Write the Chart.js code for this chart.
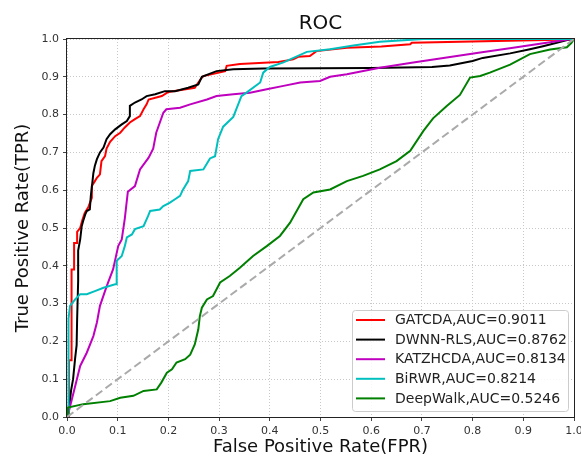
<!DOCTYPE html>
<html>
<head>
<meta charset="utf-8">
<script src="https://cdn.jsdelivr.net/npm/chart.js@4.4.1/dist/chart.umd.min.js"></script>
<style>
  html, body { margin: 0; padding: 0; background: #fff; }
  #roc { display: block; }
</style>
</head>
<body>
<canvas id="roc" width="581" height="458"></canvas>
<script>
// data
const names = ['GATCDA,AUC=0.9011', 'DWNN-RLS,AUC=0.8762', 'KATZHCDA,AUC=0.8134', 'BiRWR,AUC=0.8214', 'DeepWalk,AUC=0.5246'];
const colors = ['#ff0000', '#000000', '#bf00bf', '#00bfbf', '#008000'];
const xTicks = [0, 0.1, 0.2, 0.3, 0.4, 0.5, 0.6, 0.7, 0.8, 0.9, 1.0];

const gatcdaFpr = [0, 0.004, 0.004, 0.009, 0.009, 0.014, 0.014, 0.02, 0.02, 0.026, 0.03, 0.035, 0.042, 0.049, 0.049, 0.055, 0.059, 0.065, 0.068, 0.075, 0.078, 0.085, 0.095, 0.105, 0.114, 0.124, 0.134, 0.144, 0.151, 0.157, 0.161, 0.187, 0.2, 0.252, 0.259, 0.266, 0.269, 0.312, 0.315, 0.341, 0.417, 0.446, 0.456, 0.479, 0.492, 0.552, 0.62, 0.677, 0.68, 0.992, 1];
const gatcdaTpr = [0, 0, 0.15, 0.15, 0.39, 0.39, 0.46, 0.46, 0.49, 0.5, 0.52, 0.54, 0.555, 0.58, 0.611, 0.624, 0.633, 0.642, 0.677, 0.69, 0.71, 0.728, 0.743, 0.752, 0.766, 0.779, 0.788, 0.796, 0.814, 0.827, 0.84, 0.849, 0.86, 0.871, 0.885, 0.898, 0.902, 0.915, 0.929, 0.934, 0.939, 0.946, 0.953, 0.955, 0.968, 0.977, 0.98, 0.986, 0.99, 0.999, 1];

const dwnnFpr = [0, 0.004, 0.008, 0.012, 0.016, 0.019, 0.02, 0.022, 0.022, 0.026, 0.029, 0.032, 0.036, 0.039, 0.045, 0.047, 0.05, 0.052, 0.055, 0.059, 0.065, 0.072, 0.078, 0.085, 0.095, 0.108, 0.118, 0.124, 0.124, 0.134, 0.147, 0.157, 0.174, 0.193, 0.213, 0.239, 0.259, 0.266, 0.295, 0.328, 0.387, 0.6, 0.72, 0.755, 0.8, 0.82, 0.874, 0.913, 0.939, 0.966, 0.992, 1];
const dwnnTpr = [0, 0.02, 0.07, 0.1, 0.155, 0.19, 0.26, 0.36, 0.44, 0.47, 0.505, 0.519, 0.536, 0.545, 0.549, 0.585, 0.62, 0.645, 0.665, 0.682, 0.7, 0.713, 0.735, 0.748, 0.761, 0.774, 0.783, 0.796, 0.823, 0.832, 0.84, 0.849, 0.854, 0.862, 0.862, 0.871, 0.88, 0.9, 0.915, 0.92, 0.922, 0.923, 0.926, 0.93, 0.942, 0.95, 0.962, 0.973, 0.981, 0.99, 0.999, 1];

const katzFpr = [0, 0.003, 0.013, 0.026, 0.039, 0.052, 0.059, 0.065, 0.078, 0.091, 0.101, 0.108, 0.114, 0.12, 0.134, 0.144, 0.161, 0.17, 0.176, 0.19, 0.196, 0.223, 0.243, 0.276, 0.295, 0.328, 0.361, 0.394, 0.427, 0.46, 0.499, 0.519, 0.552, 0.617, 0.683, 0.749, 0.815, 0.88, 0.946, 0.992, 1];
const katzTpr = [0, 0.012, 0.065, 0.135, 0.17, 0.214, 0.25, 0.294, 0.345, 0.391, 0.452, 0.47, 0.525, 0.596, 0.611, 0.655, 0.686, 0.71, 0.752, 0.805, 0.814, 0.818, 0.827, 0.84, 0.849, 0.854, 0.858, 0.867, 0.876, 0.885, 0.889, 0.9, 0.907, 0.924, 0.938, 0.951, 0.964, 0.977, 0.99, 0.999, 1];

const birwrFpr = [0, 0.002, 0.003, 0.003, 0.006, 0.016, 0.026, 0.039, 0.055, 0.072, 0.095, 0.098, 0.098, 0.108, 0.114, 0.118, 0.128, 0.134, 0.151, 0.16, 0.164, 0.183, 0.19, 0.203, 0.213, 0.223, 0.229, 0.239, 0.243, 0.269, 0.282, 0.292, 0.298, 0.308, 0.328, 0.344, 0.354, 0.381, 0.387, 0.4, 0.427, 0.473, 0.519, 0.565, 0.617, 0.703, 1];
const birwrTpr = [0, 0.003, 0.15, 0.26, 0.294, 0.311, 0.325, 0.325, 0.333, 0.342, 0.351, 0.351, 0.413, 0.426, 0.452, 0.475, 0.483, 0.497, 0.505, 0.532, 0.545, 0.549, 0.558, 0.567, 0.576, 0.585, 0.602, 0.624, 0.651, 0.655, 0.684, 0.69, 0.735, 0.768, 0.794, 0.849, 0.858, 0.885, 0.911, 0.926, 0.938, 0.966, 0.973, 0.983, 0.993, 1, 1];

const deepwalkFpr = [0, 0.002, 0.002, 0.032, 0.085, 0.105, 0.131, 0.151, 0.177, 0.186, 0.197, 0.207, 0.216, 0.233, 0.243, 0.252, 0.259, 0.262, 0.266, 0.276, 0.288, 0.302, 0.321, 0.341, 0.367, 0.394, 0.42, 0.44, 0.466, 0.486, 0.519, 0.552, 0.584, 0.617, 0.65, 0.677, 0.703, 0.722, 0.749, 0.775, 0.795, 0.815, 0.834, 0.874, 0.913, 0.953, 0.986, 0.995, 1];
const deepwalkTpr = [0, 0.012, 0.025, 0.034, 0.042, 0.051, 0.056, 0.069, 0.073, 0.091, 0.117, 0.126, 0.144, 0.153, 0.165, 0.192, 0.232, 0.267, 0.289, 0.311, 0.32, 0.356, 0.373, 0.395, 0.426, 0.452, 0.479, 0.514, 0.576, 0.594, 0.602, 0.624, 0.638, 0.655, 0.677, 0.704, 0.757, 0.79, 0.823, 0.852, 0.898, 0.902, 0.911, 0.932, 0.96, 0.972, 0.978, 0.99, 1];

const chanceFpr = [0, 1];
const chanceTpr = [0, 1];

const curves = [
  [gatcdaFpr, gatcdaTpr],
  [dwnnFpr, dwnnTpr],
  [katzFpr, katzTpr],
  [birwrFpr, birwrTpr],
  [deepwalkFpr, deepwalkTpr]
];

const toPoints = (xs, ys) => xs.map((x, i) => ({ x, y: ys[i] }));
const FONT = "'DejaVu Sans', sans-serif";

const datasets = curves.map(([xs, ys], i) => ({
  label: names[i],
  data: toPoints(xs, ys),
  borderColor: colors[i],
  backgroundColor: colors[i],
  borderWidth: 2,
  pointRadius: 0,
  tension: 0,
  fill: false,
  order: curves.length - i
}));
datasets.push({
  label: '',
  data: toPoints(chanceFpr, chanceTpr),
  borderColor: '#aaaaaa',
  borderWidth: 2,
  borderDash: [8, 4],
  pointRadius: 0,
  fill: false,
  order: 0
});

// frame round the plot, title over the plot, legend in the lower right
const framePlugin = {
  id: 'frame',
  afterDraw(chart) {
    const { ctx, chartArea: a } = chart;
    ctx.save();
    ctx.strokeStyle = '#222';
    ctx.lineWidth = 1;
    ctx.strokeRect(a.left - 0.5, a.top - 0.5, a.right - a.left + 1, a.bottom - a.top + 1);
    ctx.fillStyle = '#111';
    ctx.font = '20px ' + FONT;
    ctx.textAlign = 'center';
    ctx.textBaseline = 'middle';
    ctx.fillText('ROC', (a.left + a.right) / 2, 24);
    ctx.restore();
  }
};

const legendPlugin = {
  id: 'boxLegend',
  afterDraw(chart) {
    const { ctx, chartArea: a } = chart;
    const items = chart.data.datasets.filter(d => d.label);
    const w = 216, rowH = 19.6, h = 101;
    const x0 = a.right - 6 - w, y0 = a.bottom - 6 - h;
    ctx.save();
    ctx.fillStyle = 'rgba(255,255,255,0.85)';
    ctx.strokeStyle = '#cccccc';
    ctx.lineWidth = 1;
    ctx.beginPath();
    ctx.roundRect(x0 + 0.5, y0 + 0.5, w, h, 3);
    ctx.fill();
    ctx.stroke();
    ctx.font = '14px ' + FONT;
    ctx.textBaseline = 'middle';
    ctx.textAlign = 'left';
    items.forEach((d, i) => {
      const y = y0 + 10 + i * rowH;
      ctx.strokeStyle = d.borderColor;
      ctx.lineWidth = 2;
      ctx.beginPath();
      ctx.moveTo(x0 + 4, y);
      ctx.lineTo(x0 + 33, y);
      ctx.stroke();
      ctx.fillStyle = '#222';
      ctx.fillText(d.label, x0 + 43, y + 0.5);
    });
    ctx.restore();
  }
};

const axisCommon = {
  type: 'linear',
  min: 0,
  max: 1,
  grid: { color: '#c8c8c8', lineWidth: 1, tickLength: 4, tickColor: '#444' },
  border: { display: false, dash: [1, 2] },
  ticks: {
    stepSize: 0.1,
    padding: 4,
    color: '#333',
    font: { family: FONT, size: 11 },
    callback: v => Number(v).toFixed(1)
  }
};

new Chart(document.getElementById('roc'), {
  type: 'line',
  data: { datasets },
  options: {
    responsive: false,
    animation: false,
    layout: { padding: { left: 0, right: 7, top: 39, bottom: 0 } },
    plugins: {
      legend: { display: false },
      title: { display: false },
      tooltip: { enabled: false }
    },
    scales: {
      x: {
        ...axisCommon,
        afterBuildTicks: s => { s.ticks = xTicks.map(v => ({ value: v })); },
        afterFit: s => { s.height = 41; s.paddingLeft = 0; s.paddingRight = 0; },
        title: { display: true, text: 'False Positive Rate(FPR)', color: '#111', font: { family: FONT, size: 18 }, padding: { top: 0, bottom: 0 } }
      },
      y: {
        ...axisCommon,
        afterBuildTicks: s => { s.ticks = xTicks.map(v => ({ value: v })); },
        afterFit: s => { s.width = 67; s.paddingTop = 0; s.paddingBottom = 0; },
        title: { display: true, text: 'True Positive Rate(TPR)', color: '#111', font: { family: FONT, size: 18 }, padding: { top: 13, bottom: 0 } }
      }
    }
  },
  plugins: [framePlugin, legendPlugin]
});
</script>
</body>
</html>
